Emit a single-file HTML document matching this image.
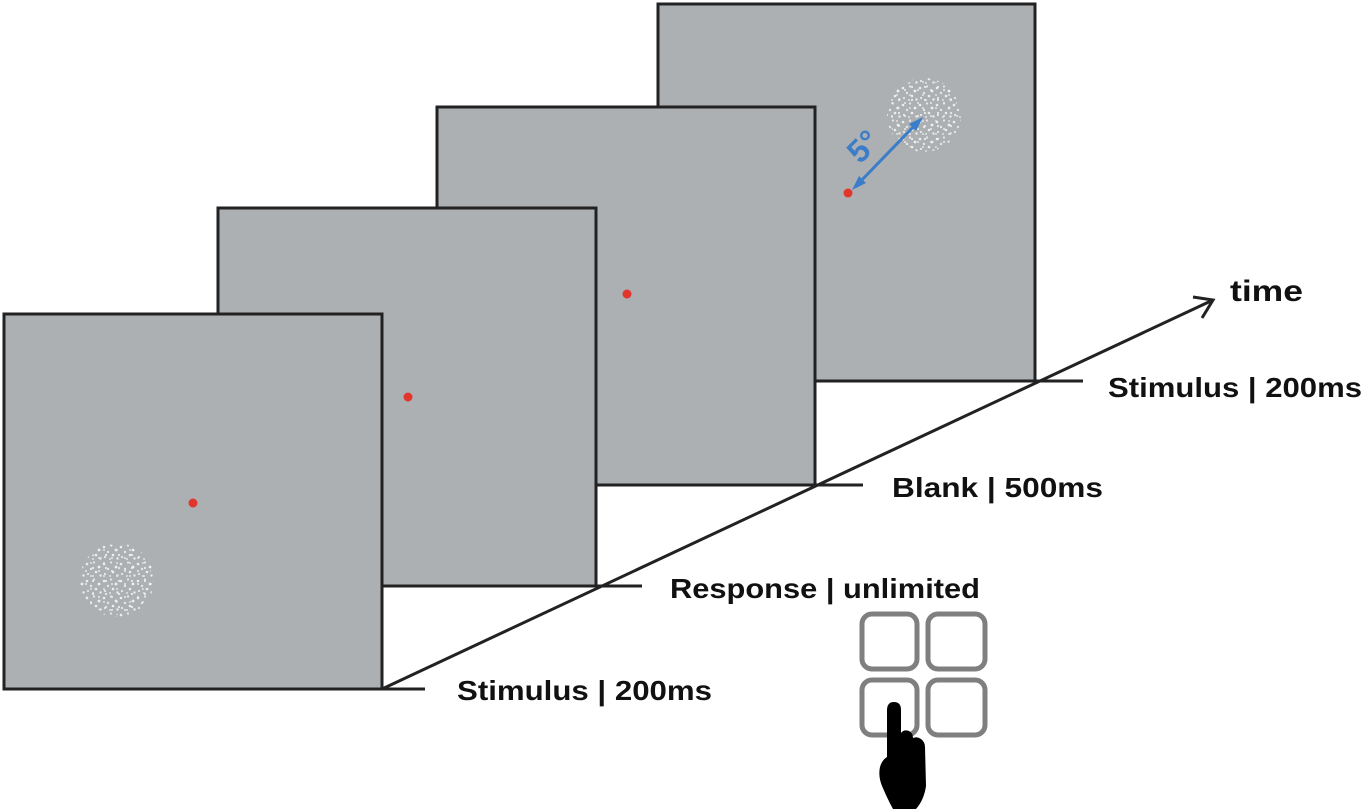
<!DOCTYPE html>
<html>
<head>
<meta charset="utf-8">
<style>
html,body{margin:0;padding:0;background:#fff;}
svg{display:block;}
text{font-family:"Liberation Sans",sans-serif;font-weight:bold;fill:#111;}
</style>
</head>
<body>
<svg width="1370" height="809" viewBox="0 0 1370 809" xmlns="http://www.w3.org/2000/svg">
<defs>
  <pattern id="dots" x="0" y="0" width="17" height="17" patternUnits="userSpaceOnUse">
    <circle cx="2" cy="3" r="1.3" fill="#f4f4f4"/>
    <circle cx="9" cy="1.5" r="1.1" fill="#eeeeee"/>
    <circle cx="14" cy="6" r="1.4" fill="#f6f6f6"/>
    <circle cx="6" cy="8" r="1.2" fill="#ececec"/>
    <circle cx="11" cy="11" r="1.3" fill="#f4f4f4"/>
    <circle cx="3" cy="13" r="1.1" fill="#eeeeee"/>
    <circle cx="15.5" cy="14.5" r="1.2" fill="#f2f2f2"/>
    <circle cx="8" cy="15" r="1" fill="#e8e8e8"/>
  </pattern>
  <pattern id="dots2" x="5" y="7" width="13" height="13" patternUnits="userSpaceOnUse">
    <circle cx="3" cy="5" r="1" fill="#f0f0f0"/>
    <circle cx="10" cy="2" r="1.1" fill="#f0f0f0"/>
    <circle cx="8" cy="10" r="1" fill="#e6e6e6"/>
  </pattern>
</defs>

<!-- Frame 4 (back) -->
<rect x="658" y="4" width="377" height="377" fill="#adb0b3" stroke="#222" stroke-width="3"/>
<!-- Frame 3 -->
<rect x="437" y="107" width="378" height="378" fill="#adb0b3" stroke="#222" stroke-width="3"/>
<!-- Frame 2 -->
<rect x="218" y="208" width="378" height="378" fill="#adb0b3" stroke="#222" stroke-width="3"/>
<!-- Frame 1 (front) -->
<rect x="4" y="314" width="378" height="375" fill="#adb0b3" stroke="#222" stroke-width="3"/>

<!-- stimulus dot fields -->
<circle cx="117" cy="580" r="37" fill="url(#dots)" opacity="0.9"/>
<circle cx="117" cy="580" r="35" fill="url(#dots2)" opacity="0.9"/>
<circle cx="924" cy="115" r="37" fill="url(#dots)" opacity="0.9"/>
<circle cx="924" cy="115" r="35" fill="url(#dots2)" opacity="0.9"/>

<!-- red fixation dots -->
<circle cx="193" cy="503" r="4.5" fill="#e0362c"/>
<circle cx="408" cy="397" r="4.5" fill="#e0362c"/>
<circle cx="627" cy="294" r="4.5" fill="#e0362c"/>
<circle cx="848" cy="193" r="4.5" fill="#e0362c"/>

<!-- blue 5° arrow -->
<line x1="858" y1="184" x2="918" y2="122" stroke="#3b7dc8" stroke-width="3"/>
<polygon points="923,117 909,124 916,131" fill="#3b7dc8"/>
<polygon points="852,190 859,176 866,183" fill="#3b7dc8"/>
<text x="0" y="0" transform="translate(871,154) rotate(-45)" text-anchor="middle" font-size="32" style="fill:#3b7dc8">5°</text>

<!-- tick lines -->
<line x1="382" y1="689" x2="425" y2="689" stroke="#222" stroke-width="3"/>
<line x1="596" y1="586" x2="642" y2="586" stroke="#222" stroke-width="3"/>
<line x1="815" y1="485" x2="863" y2="485" stroke="#222" stroke-width="3"/>
<line x1="1035" y1="381" x2="1083" y2="381" stroke="#222" stroke-width="3"/>

<!-- time axis -->
<line x1="382" y1="689" x2="1213" y2="300" stroke="#222" stroke-width="3"/>
<polyline points="1193,297 1213,300 1202,318" fill="none" stroke="#222" stroke-width="3" stroke-linejoin="miter"/>

<!-- labels -->
<text x="1230" y="301" font-size="30" textLength="73" lengthAdjust="spacingAndGlyphs">time</text>
<text x="1108" y="397" font-size="28" textLength="254" lengthAdjust="spacingAndGlyphs">Stimulus | 200ms</text>
<text x="892" y="497" font-size="28" textLength="211" lengthAdjust="spacingAndGlyphs">Blank | 500ms</text>
<text x="670" y="598" font-size="28" textLength="310" lengthAdjust="spacingAndGlyphs">Response | unlimited</text>
<text x="457" y="700" font-size="28" textLength="255" lengthAdjust="spacingAndGlyphs">Stimulus | 200ms</text>

<!-- keypad -->
<rect x="862" y="614" width="55" height="55" rx="10" fill="#fff" stroke="#7f7f7f" stroke-width="5"/>
<rect x="928" y="614" width="57" height="55" rx="10" fill="#fff" stroke="#7f7f7f" stroke-width="5"/>
<rect x="862" y="680" width="55" height="55" rx="10" fill="#fff" stroke="#7f7f7f" stroke-width="5"/>
<rect x="928" y="680" width="57" height="55" rx="10" fill="#fff" stroke="#7f7f7f" stroke-width="5"/>

<!-- hand -->
<path d="M887,710 Q887,702 894,702 Q901,702 901,710 L901,733
         Q904,729 909,731 Q913,733 913,738
         Q917,736 921,739 Q925,742 925,747
         L926,786 Q924,800 916,809 L893,809
         Q887,798 882,786 Q878,776 880,767
         Q882,760 887,757 Z" fill="#000"/>
</svg>
</body>
</html>
